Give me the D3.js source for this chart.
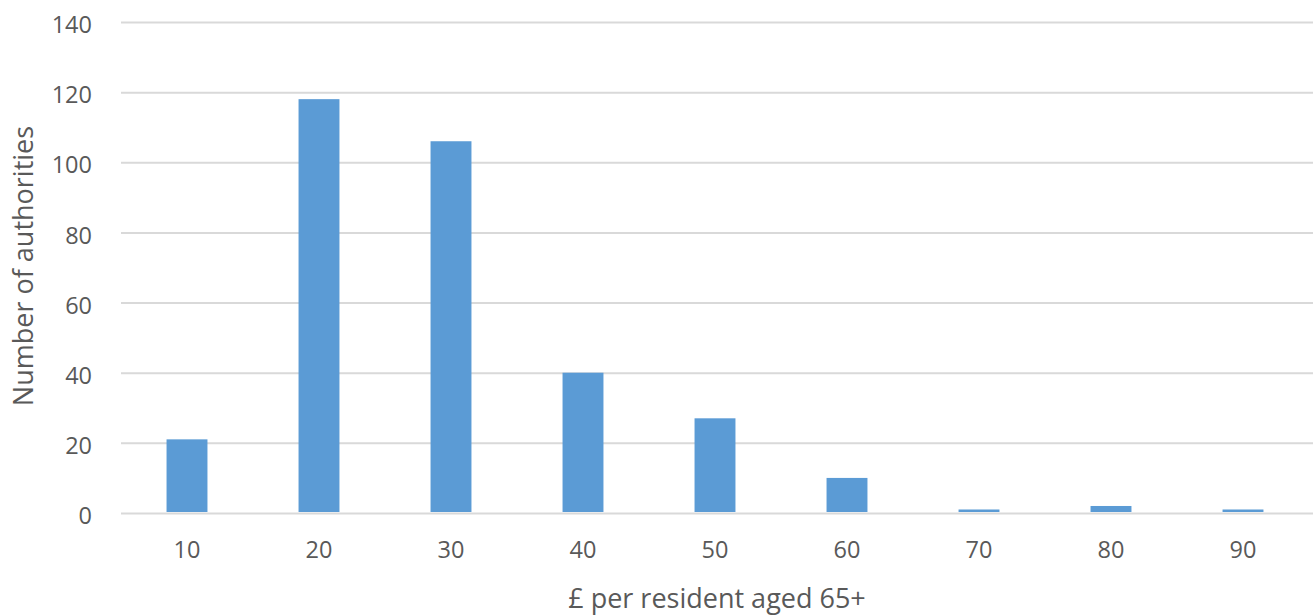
<!DOCTYPE html>
<html><head><meta charset="utf-8">
<script src="https://cdn.jsdelivr.net/npm/d3@7"></script>
<style>body{margin:0;background:#fff}svg{display:block}</style>
</head><body>
<svg id="c" width="1314" height="615"></svg>
<script>
const categories = ["10","20","30","40","50","60","70","80","90"];
const counts = [21, 118, 106, 40, 27, 10, 1, 2, 1];
const yTicks = [0, 20, 40, 60, 80, 100, 120, 140];
const xTitle = "£ per resident aged 65+";
const yTitle = "Number of authorities";

const W = 1314, H = 615;
const m = {left: 121, right: 1, top: 22, bottom: 102};
const svg = d3.select("#c");
const font = "'Open Sans', sans-serif";
const txt = "#595959";

const x = d3.scaleBand().domain(categories).range([m.left, m.left + 132*9]).paddingInner(0.69).paddingOuter(0.345);
const y = d3.scaleLinear().domain([0, 140]).range([H - m.bottom, m.top]);

const yAxis = svg.append("g").attr("transform", `translate(${m.left},0)`)
  .call(d3.axisLeft(y).tickValues(yTicks).tickSize(-(W - m.left - m.right)).tickPadding(29));
yAxis.select(".domain").remove();
yAxis.selectAll(".tick line").attr("stroke", "#d9d9d9").attr("stroke-width", 2);
yAxis.selectAll(".tick text").attr("fill", txt).attr("dy", "0.45em").style("font-family", font).style("font-size", "23.5px");

svg.append("g").selectAll("rect").data(counts).join("rect")
  .attr("x", (d, i) => x(categories[i]))
  .attr("width", x.bandwidth())
  .attr("y", d => y(d))
  .attr("height", d => y(0) - y(d) - 1)
  .attr("fill", "#5b9bd5");

const xAxis = svg.append("g").attr("transform", `translate(0,${y(0)})`)
  .call(d3.axisBottom(x).tickSize(0).tickPadding(28));
xAxis.select(".domain").remove();
xAxis.selectAll(".tick text").attr("fill", txt).style("font-family", font).style("font-size", "23.5px");

svg.append("text").attr("x", 717).attr("y", 608).attr("text-anchor", "middle")
  .attr("fill", txt).style("font-family", font).style("font-size", "27px").text(xTitle);
svg.append("text").attr("transform", "translate(33,266) rotate(-90)").attr("text-anchor", "middle")
  .attr("fill", txt).style("font-family", font).style("font-size", "27px").text(yTitle);
</script>
</body></html>
